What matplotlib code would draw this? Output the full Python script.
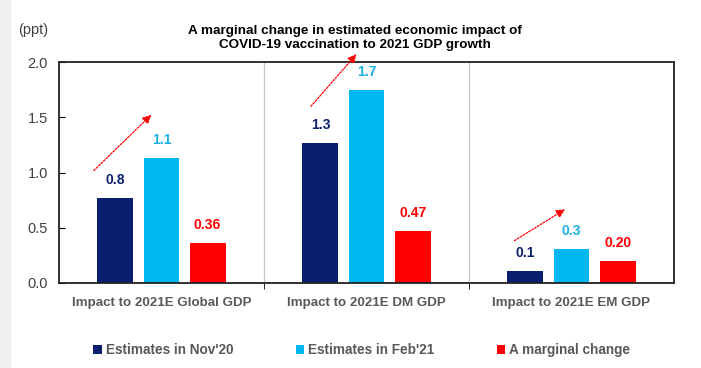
import numpy as np
import matplotlib.pyplot as plt
from matplotlib.patches import Rectangle

# Data
categories = ["Impact to 2021E Global GDP", "Impact to 2021E DM GDP", "Impact to 2021E EM GDP"]
nov20 = [0.77, 1.27, 0.11]
feb21 = [1.13, 1.75, 0.31]
change = [0.36, 0.47, 0.20]
nov20_labels = ["0.8", "1.3", "0.1"]
feb21_labels = ["1.1", "1.7", "0.3"]
change_labels = ["0.36", "0.47", "0.20"]
series_names = ["Estimates in Nov'20", "Estimates in Feb'21", "A marginal change"]

# arrow annotations (start x, start y, end x, end y) in data units
arrows = [(-0.34, 1.00, -0.04, 1.54),
          (0.72, 1.58, 0.96, 2.09),
          (1.71, 0.37, 1.98, 0.68)]

navy = "#0a1f6e"
cyan = "#00b8f0"
red = "#ff0000"
plt.rcParams['font.family'] = ["Liberation Sans", "DejaVu Sans"]

fig = plt.figure(figsize=(7.01, 3.68), dpi=100)
# light grey strip at the left edge
fig.patches.append(Rectangle((0, 0), 10 / 701, 1, transform=fig.transFigure,
                             color="#f0f0f0", zorder=0))
ax = fig.add_axes([59 / 701, 1 - 283 / 368, 615 / 701, 221 / 368])

x = np.arange(len(categories))
w = 0.175
off = 0.225
ax.bar(x - off, nov20, w, color=navy, label=series_names[0])
ax.bar(x, feb21, w, color=cyan, label=series_names[1])
ax.bar(x + off, change, w, color=red, label=series_names[2])

for i in range(len(categories)):
    ax.text(x[i] - off, nov20[i] + 0.1, nov20_labels[i], ha="center", va="bottom",
            color=navy, fontsize=10, fontweight="bold")
    ax.text(x[i], feb21[i] + 0.1, feb21_labels[i], ha="center", va="bottom",
            color="#1ab0e6", fontsize=10, fontweight="bold")
    ax.text(x[i] + off, change[i] + 0.1, change_labels[i], ha="center", va="bottom",
            color=red, fontsize=10, fontweight="bold")

for (x0, y0, x1, y1) in arrows:
    ax.annotate("", xy=(x1, y1), xytext=(x0, y0), annotation_clip=False,
                arrowprops=dict(arrowstyle="-|>", color=red, lw=0.9, ls=(0, (1.5, 1.2)),
                                mutation_scale=13))

# group separators
for b in [0.5, 1.5]:
    ax.axvline(b, color="#c8c8c8", lw=1)

ax.set_xlim(-0.5, 2.5)
ax.set_ylim(0, 2.0)
ax.set_yticks([0, 0.5, 1.0, 1.5, 2.0])
ax.set_yticklabels(["0.0", "0.5", "1.0", "1.5", "2.0"])
ax.set_xticks(x)
ax.set_xticklabels(categories, fontweight="bold", color="#595959", fontsize=9.6)
ax.set_xticks([0.5, 1.5], minor=True)
ax.tick_params(axis="x", which="major", length=0, pad=10)
ax.tick_params(axis="x", which="minor", length=4, direction="out", color="black")
ax.tick_params(axis="y", length=4, direction="in", labelsize=10.5, labelcolor="#404040", pad=8)
for s in ax.spines.values():
    s.set_linewidth(1.3)
    s.set_color("#222222")

fig.text(0.047, 1 - 30 / 368, "(ppt)", ha="center", va="center", fontsize=10.5, color="#404040")
fig.text(0.506, 1 - 38 / 368,
         "A marginal change in estimated economic impact of\nCOVID-19 vaccination to 2021 GDP growth",
         ha="center", va="center", fontsize=9.7, fontweight="bold", linespacing=1.2)

leg = fig.legend(loc="center", bbox_to_anchor=(0.516, 1 - 350 / 368), ncol=3, frameon=False,
                 handlelength=0.6, handleheight=0.6, handletextpad=0.3, columnspacing=4.6,
                 prop={"weight": "bold", "size": 9.8})
for t in leg.get_texts():
    t.set_color("#595959")

fig.savefig("out.png", dpi=100)
